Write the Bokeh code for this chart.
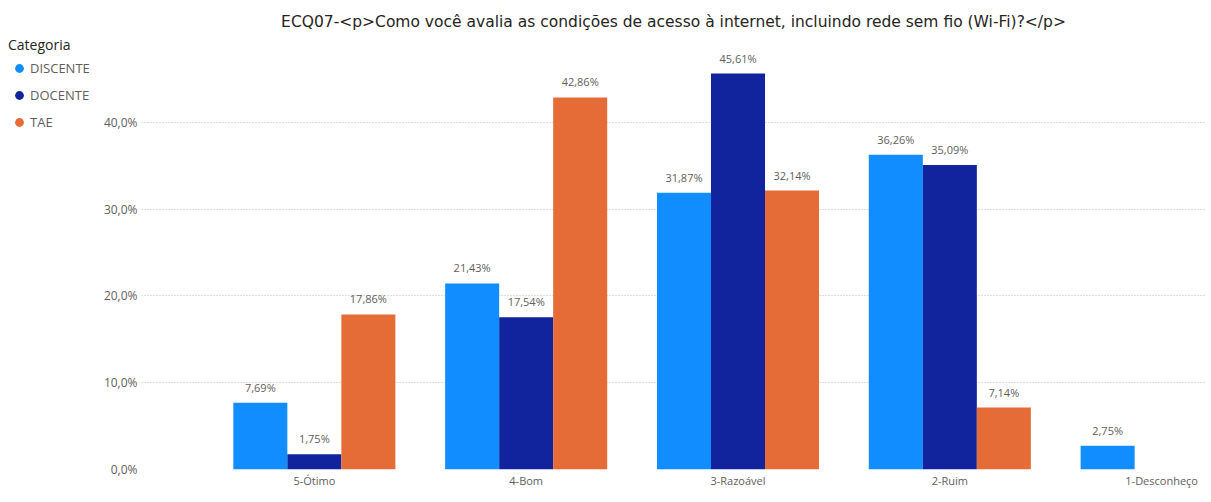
from bokeh.plotting import figure
from bokeh.models import (ColumnDataSource, Range1d, FixedTicker, Legend, LegendItem)
from bokeh.layouts import row
from bokeh.core.properties import value
from bokeh.embed import file_html
from bokeh.resources import INLINE
import math

# ---- data ----
categories = ["5-Ótimo", "4-Bom", "3-Razoável", "2-Ruim", "1-Desconheço"]
series_names = ["DISCENTE", "DOCENTE", "TAE"]
discente = [7.69, 21.43, 31.87, 36.26, 2.75]
docente = [1.75, 17.54, 45.61, 35.09, float("nan")]
tae = [17.86, 42.86, 32.14, 7.14, float("nan")]
y_ticks = [0, 10, 20, 30, 40]
y_tick_labels = ["0,0%", "10,0%", "20,0%", "30,0%", "40,0%"]
title_text = "ECQ07-<p>Como você avalia as condições de acesso à internet, incluindo rede sem fio (Wi-Fi)?</p>"

colors = ["#118DFF", "#12239E", "#E66C37"]
series_vals = [discente, docente, tae]
FONT = "Open Sans"
H = 498

# ---- main chart ----
p = figure(width=1105, height=H, output_backend="svg",
           toolbar_location=None, x_range=Range1d(-0.816, 4.207),
           y_range=Range1d(0, 50), min_border_left=40, min_border_right=0,
           min_border_top=35, min_border_bottom=29)
p.title.text = title_text
p.title.align = "center"
p.title.text_font = "DejaVu Sans"
p.title.text_font_size = "15.5px"
p.title.text_font_style = "normal"
p.title.text_color = "#252423"
p.title.standoff = 9

bar_w = 0.255
offsets = [-bar_w, 0.0, bar_w]
xs = list(range(len(categories)))

# legend-only figure
lg = figure(width=100, height=H, output_backend="svg", toolbar_location=None,
            min_border_left=8, min_border_top=32, min_border_right=0,
            min_border_bottom=0, x_axis_type=None, y_axis_type=None)
lg.outline_line_color = None
lg.xgrid.grid_line_color = None
lg.ygrid.grid_line_color = None

legend_items = []
for name, vals, col, off in zip(series_names, series_vals, colors, offsets):
    xpos = [x + off for x in xs]
    src = ColumnDataSource(dict(x=xpos, top=vals))
    p.vbar(x="x", top="top", width=bar_w, source=src, fill_color=col, line_color=None)
    lx, ly, lt = [], [], []
    for xv, v in zip(xpos, vals):
        if not math.isnan(v):
            lx.append(xv); ly.append(v)
            lt.append(("%.2f" % v).replace(".", ",") + "%")
    p.text(x=lx, y=ly, text=lt, text_align="center", text_baseline="bottom",
           y_offset=-8, text_font=value(FONT), text_font_size="11px",
           text_color="#605E5C")
    r = lg.scatter(x=[float("nan")], y=[float("nan")], marker="circle", size=10,
                   fill_color=col, line_color=None)
    legend_items.append(LegendItem(label=name, renderers=[r]))

legend = Legend(items=legend_items, title="Categoria", location="top_left")
legend.title_text_font = FONT
legend.title_text_font_size = "14px"
legend.title_text_color = "#252423"
legend.title_text_font_style = "normal"
legend.label_text_font = FONT
legend.label_text_font_size = "13px"
legend.label_text_color = "#605E5C"
legend.glyph_width = 22
legend.glyph_height = 22
legend.label_standoff = -5
legend.label_height = 20
legend.spacing = 5
legend.padding = 5
legend.margin = 0
legend.border_line_color = None
legend.background_fill_alpha = 0
legend.title_standoff = 3
lg.add_layout(legend, "center")

# x axis
p.xaxis.ticker = FixedTicker(ticks=xs)
p.xaxis.major_label_overrides = {i: c for i, c in enumerate(categories)}
p.xaxis.axis_line_color = None
p.xaxis.major_tick_line_color = None
p.xaxis.minor_tick_line_color = None
p.xaxis.major_tick_out = 0
p.xaxis.major_label_standoff = 3
p.xaxis.major_label_text_font = FONT
p.xaxis.major_label_text_font_size = "11px"
p.xaxis.major_label_text_color = "#605E5C"

# y axis
p.yaxis.ticker = FixedTicker(ticks=y_ticks)
p.yaxis.major_label_overrides = {t: l for t, l in zip(y_ticks, y_tick_labels)}
p.yaxis.axis_line_color = None
p.yaxis.major_tick_line_color = None
p.yaxis.minor_tick_line_color = None
p.yaxis.major_tick_out = 0
p.yaxis.major_label_standoff = 4
p.yaxis.major_label_text_font = FONT
p.yaxis.major_label_text_font_size = "12px"
p.yaxis.major_label_text_color = "#605E5C"

p.xgrid.grid_line_color = None
p.ygrid.grid_line_color = "#BDBDBD"
p.ygrid.grid_line_dash = "1 2"
p.outline_line_color = None

layout = row(lg, p)
open("out.html", "w").write(file_html(layout, INLINE))
